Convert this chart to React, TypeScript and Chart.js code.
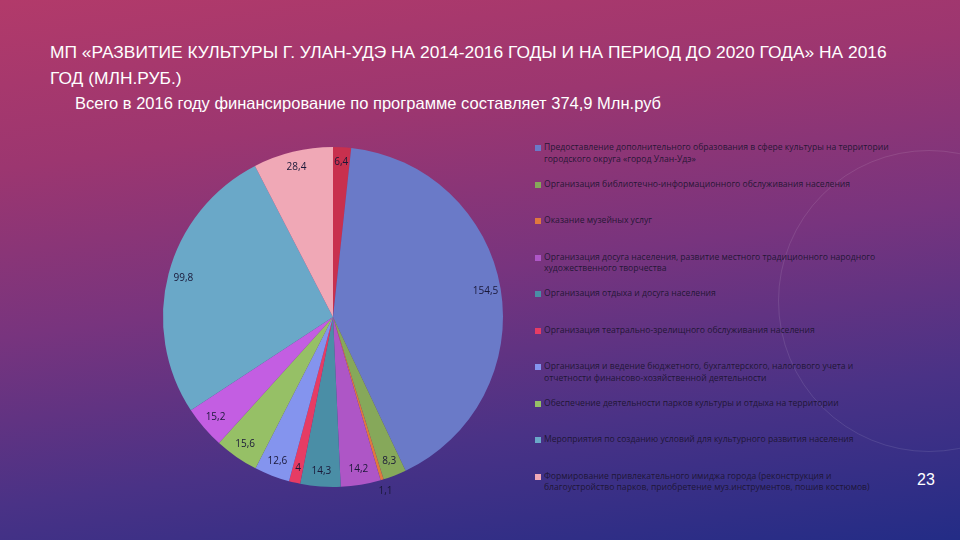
import React, { useEffect, useRef } from "react";
import { Chart, registerables } from "chart.js";

Chart.register(...registerables);

const TITLE_LINE_1 = "МП «РАЗВИТИЕ КУЛЬТУРЫ Г. УЛАН-УДЭ НА 2014-2016 ГОДЫ И НА ПЕРИОД ДО 2020 ГОДА» НА 2016";
const TITLE_LINE_2 = "ГОД (МЛН.РУБ.)";
const SUBTITLE = "Всего в 2016 году финансирование по программе составляет 374,9 Млн.руб";
const SLIDE_NUMBER = "23";

const categories: string[] = [
  "",
  "Предоставление дополнительного образования в сфере культуры на территории городского округа «город Улан-Удэ»",
  "Организация библиотечно-информационного обслуживания населения",
  "Оказание музейных услуг",
  "Организация досуга населения, развитие местного традиционного народного художественного творчества",
  "Организация отдыха и досуга населения",
  "Организация театрально-зрелищного обслуживания населения",
  "Организация и ведение бюджетного, бухгалтерского, налогового учета и отчетности финансово-хозяйственной деятельности",
  "Обеспечение деятельности парков культуры и отдыха на территории",
  "",
  "Мероприятия по созданию условий для культурного развития населения",
  "Формирование привлекательного имиджа города (реконструкция и благоустройство парков, приобретение муз.инструментов, пошив костюмов)",
];

const values: number[] = [6.4, 154.5, 8.3, 1.1, 14.2, 14.3, 4, 12.6, 15.6, 15.2, 99.8, 28.4];

const valueLabels: string[] = ["6,4", "154,5", "8,3", "1,1", "14,2", "14,3", "4", "12,6", "15,6", "15,2", "99,8", "28,4"];

const sliceColors: string[] = [
  "#c8304e",
  "#6a7ac8",
  "#86a85a",
  "#e0783e",
  "#ae56c6",
  "#4a8ea6",
  "#e63c64",
  "#8494ee",
  "#96c066",
  "#c35ee2",
  "#6aa8c8",
  "#f0a8b6",
];

const labelPlugin = {
  id: "sliceValues",
  afterDatasetsDraw(chart: any) {
    const ctx = chart.ctx;
    const meta = chart.getDatasetMeta(0);
    const data = chart.data.datasets[0].data as number[];
    const total = data.reduce((a, b) => a + b, 0);
    ctx.save();
    ctx.font = "10px 'Open Sans', sans-serif";
    ctx.fillStyle = "#1a1838";
    ctx.textAlign = "center";
    ctx.textBaseline = "middle";
    meta.data.forEach((arc: any, i: number) => {
      const p = arc.getProps(["x", "y", "startAngle", "endAngle", "outerRadius"], true);
      const mid = (p.startAngle + p.endAngle) / 2;
      const share = data[i] / total;
      const f = share < 0.005 ? 1.07 : 0.91;
      const r = p.outerRadius * f;
      ctx.fillText(valueLabels[i], p.x + Math.cos(mid) * r, p.y + Math.sin(mid) * r);
    });
    ctx.restore();
  },
};

export default function App() {
  const canvasRef = useRef<HTMLCanvasElement | null>(null);

  useEffect(() => {
    document.body.style.margin = "0";
    const canvas = canvasRef.current;
    if (!canvas) return;
    const chart = new Chart(canvas, {
      type: "pie",
      data: {
        labels: categories,
        datasets: [
          {
            data: values,
            backgroundColor: sliceColors,
            borderWidth: 0,
          },
        ],
      },
      options: {
        responsive: false,
        animation: false,
        layout: { padding: 20 },
        plugins: {
          legend: { display: false },
          tooltip: { enabled: false },
        },
      },
      plugins: [labelPlugin],
    });
    return () => chart.destroy();
  }, []);

  const legendItems = categories
    .map((c, i) => ({ text: c, color: sliceColors[i] }))
    .filter((d) => d.text !== "");

  return (
    <div
      style={{
        position: "absolute",
        left: 0,
        top: 0,
        width: 960,
        height: 540,
        overflow: "hidden",
        background:
          "linear-gradient(172deg, #b23a6a 0%, #9c3670 25%, #78347e 50%, #4a3286 75%, #232c86 100%)",
        fontFamily: "'Open Sans', sans-serif",
      }}
    >
      <div
        style={{
          position: "absolute",
          right: -120,
          top: 150,
          width: 300,
          height: 300,
          borderRadius: "50%",
          border: "1px solid rgba(255,255,255,0.1)",
        }}
      />
      <div
        style={{
          position: "absolute",
          left: 50,
          top: 39,
          color: "#ffffff",
          fontFamily: "'Liberation Sans Narrow', 'Liberation Sans', sans-serif",
          fontSize: 17.4,
          lineHeight: "26px",
          whiteSpace: "nowrap",
        }}
      >
        <div>{TITLE_LINE_1}</div>
        <div>{TITLE_LINE_2}</div>
      </div>
      <div
        style={{
          position: "absolute",
          left: 75,
          top: 92,
          color: "#ffffff",
          fontFamily: "'Liberation Sans Narrow', 'Liberation Sans', sans-serif",
          fontSize: 16.5,
          lineHeight: "22px",
          whiteSpace: "nowrap",
        }}
      >
        {SUBTITLE}
      </div>
      <canvas
        ref={canvasRef}
        width={380}
        height={380}
        style={{ position: "absolute", left: 143, top: 127, width: 380, height: 380 }}
      />
      <div style={{ position: "absolute", left: 535, top: 142, width: 365 }}>
        {legendItems.map((d, i) => (
          <div key={i} style={{ height: 36.5, display: "flex", alignItems: "flex-start" }}>
            <div
              style={{
                width: 6,
                height: 6,
                background: d.color,
                marginTop: 3,
                marginRight: 3,
                flex: "0 0 auto",
              }}
            />
            <div
              style={{
                fontSize: 8.6,
                lineHeight: "11.5px",
                color: "rgba(28,20,48,0.95)",
              }}
            >
              {d.text}
            </div>
          </div>
        ))}
      </div>
      <div
        style={{
          position: "absolute",
          left: 917,
          top: 471,
          color: "#ffffff",
          fontSize: 16,
          fontFamily: "'Liberation Sans', sans-serif",
        }}
      >
        {SLIDE_NUMBER}
      </div>
    </div>
  );
}
